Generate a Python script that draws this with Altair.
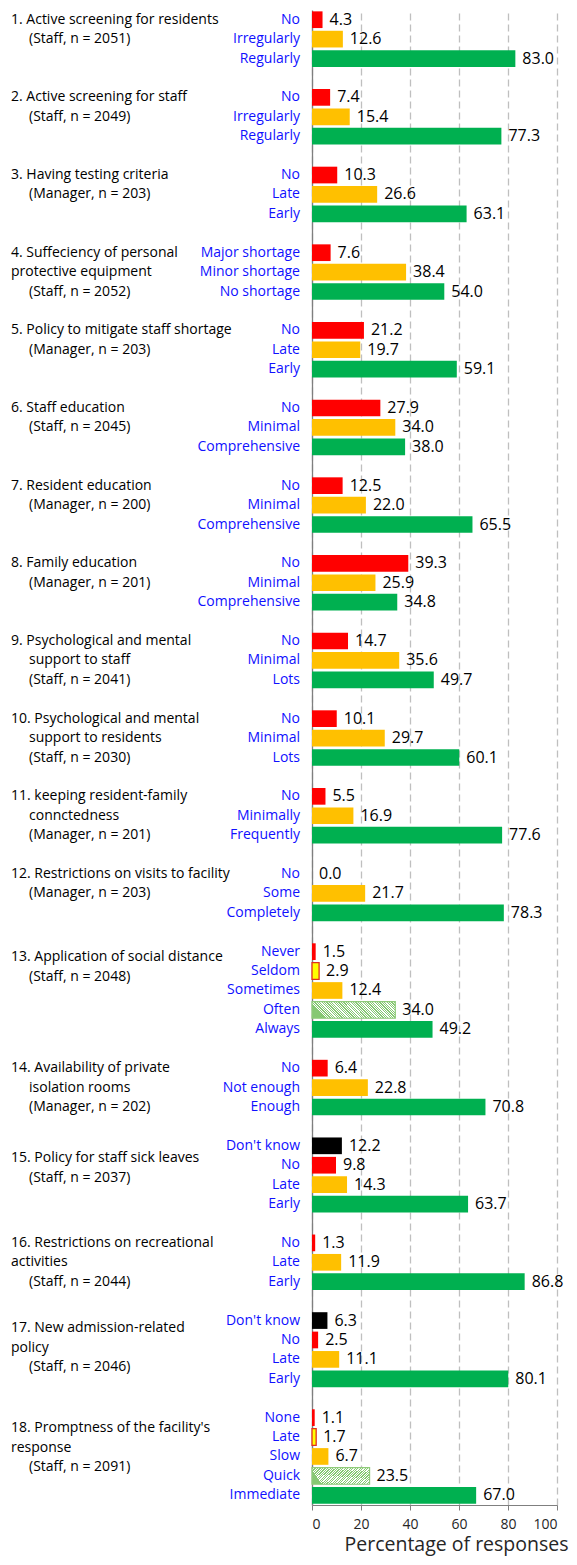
import altair as alt
import pandas as pd

# ---------------- data ----------------
titles = [
    ["1. Active screening for residents", "\t(Staff, n = 2051)"],
    ["2. Active screening for staff", "\t(Staff, n = 2049)"],
    ["3. Having testing criteria", "\t(Manager, n = 203)"],
    ["4. Suffeciency of personal", "protective equipment", "\t(Staff, n = 2052)"],
    ["5. Policy to mitigate staff shortage", "\t(Manager, n = 203)"],
    ["6. Staff education", "\t(Staff, n = 2045)"],
    ["7. Resident education", "\t(Manager, n = 200)"],
    ["8. Family education", "\t(Manager, n = 201)"],
    ["9. Psychological and mental", "\tsupport to staff", "\t(Staff, n = 2041)"],
    ["10. Psychological and mental", "\tsupport to residents", "\t(Staff, n = 2030)"],
    ["11. keeping resident-family", "\tconnctedness", "\t(Manager, n = 201)"],
    ["12. Restrictions on visits to facility", "\t(Manager, n = 203)"],
    ["13. Application of social distance", "\t(Staff, n = 2048)"],
    ["14. Availability of private", "\tisolation rooms", "\t(Manager, n = 202)"],
    ["15. Policy for staff sick leaves", "\t(Staff, n = 2037)"],
    ["16. Restrictions on recreational", "activities", "\t(Staff, n = 2044)"],
    ["17. New admission-related", "policy", "\t(Staff, n = 2046)"],
    ["18. Promptness of the facility's", "response", "\t(Staff, n = 2091)"],
]

categories = [
    ["No", "Irregularly", "Regularly"],
    ["No", "Irregularly", "Regularly"],
    ["No", "Late", "Early"],
    ["Major shortage", "Minor shortage", "No shortage"],
    ["No", "Late", "Early"],
    ["No", "Minimal", "Comprehensive"],
    ["No", "Minimal", "Comprehensive"],
    ["No", "Minimal", "Comprehensive"],
    ["No", "Minimal", "Lots"],
    ["No", "Minimal", "Lots"],
    ["No", "Minimally", "Frequently"],
    ["No", "Some", "Completely"],
    ["Never", "Seldom", "Sometimes", "Often", "Always"],
    ["No", "Not enough", "Enough"],
    ["Don't know", "No", "Late", "Early"],
    ["No", "Late", "Early"],
    ["Don't know", "No", "Late", "Early"],
    ["None", "Late", "Slow", "Quick", "Immediate"],
]

values = [
    [4.3, 12.6, 83.0],
    [7.4, 15.4, 77.3],
    [10.3, 26.6, 63.1],
    [7.6, 38.4, 54.0],
    [21.2, 19.7, 59.1],
    [27.9, 34.0, 38.0],
    [12.5, 22.0, 65.5],
    [39.3, 25.9, 34.8],
    [14.7, 35.6, 49.7],
    [10.1, 29.7, 60.1],
    [5.5, 16.9, 77.6],
    [0.0, 21.7, 78.3],
    [1.5, 2.9, 12.4, 34.0, 49.2],
    [6.4, 22.8, 70.8],
    [12.2, 9.8, 14.3, 63.7],
    [1.3, 11.9, 86.8],
    [6.3, 2.5, 11.1, 80.1],
    [1.1, 1.7, 6.7, 23.5, 67.0],
]

RYG = ["red", "orange", "green"]
styles = [RYG] * 12 + [
    ["red", "yellow", "orange", "hatch", "green"],
    RYG,
    ["black", "red", "orange", "green"],
    RYG,
    ["black", "red", "orange", "green"],
    ["red", "yellow", "orange", "hatch", "green"],
]

# layout-only: vertical shift of the question title (in rows)
TITLE_SHIFT = {13: 0.3, 15: 0.65, 17: 0.4, 18: 0.55}

# ---------------- build tables ----------------
bar_rows, title_rows = [], []
row = 0
for gi, (tl, cats, vals, sts) in enumerate(zip(titles, categories, values, styles), start=1):
    first = row
    for c, v, s in zip(cats, vals, sts):
        bar_rows.append({"row": row, "cat": c, "val": v, "style": s})
        row += 1
    for li, line in enumerate(tl):
        title_rows.append({
            "row": first + TITLE_SHIFT.get(gi, 0) + li,
            "text": line.lstrip("\t"),
            "indent": line.startswith("\t"),
        })
    row += 1  # blank separator row
n_rows = row - 1

bars = pd.DataFrame(bar_rows)
tdf = pd.DataFrame(title_rows)

FONT = "Open Sans"
W, H = 245, 1495
PAD_L = 304

yscale = alt.Scale(domain=[-0.5, n_rows - 0.5], reverse=True, nice=False, zero=False, padding=0)
xscale = alt.Scale(domain=[0, 100], nice=False, padding=0)

base = alt.Chart(bars).transform_calculate(
    y0="datum.row - 0.43", y1="datum.row + 0.43"
)

style_dom = ["red", "orange", "green", "black", "yellow"]
fill_rng = ["#FF0000", "#FFC000", "#00B050", "#000000", "#FFFF00"]
stroke_rng = ["transparent", "transparent", "transparent", "transparent", "#E0301E"]

solid = base.transform_filter(alt.datum.style != "hatch").mark_bar(strokeWidth=1.3).encode(
    x=alt.X("val:Q", scale=xscale,
            axis=alt.Axis(values=[0, 20, 40, 60, 80, 100], grid=True, gridDash=[7, 4],
                          gridColor="#BFBFBF", gridWidth=1.3, domainColor="#7F7F7F",
                          tickColor="#7F7F7F", tickSize=5, labelFont=FONT, labelFontSize=14,
                          labelColor="#262626", labelPadding=7, title="Percentage of responses",
                          titleFont=FONT, titleFontSize=19.5, titleFontWeight="normal",
                          titleColor="#262626", titleAlign="right", titleX=256, titleY=45,
                          titleBaseline="alphabetic")),
    x2=alt.datum(0),
    y=alt.Y("y0:Q", scale=yscale,
            axis=alt.Axis(labels=False, ticks=False, grid=False, title=None,
                          domainColor="#7F7F7F", domainWidth=1.3)),
    y2="y1:Q",
    fill=alt.Fill("style:N", scale=alt.Scale(domain=style_dom, range=fill_rng), legend=None),
    stroke=alt.Stroke("style:N", scale=alt.Scale(domain=style_dom, range=stroke_rng), legend=None),
)

N = 36
G = "#86C873"
stops = []
for i in range(N):
    a, b, c = i / N, (i + 0.5) / N, (i + 1) / N
    stops += [
        {"offset": a, "color": G}, {"offset": b, "color": G},
        {"offset": b, "color": "#FFFFFF"}, {"offset": c, "color": "#FFFFFF"},
    ]
hatch_fill = {"gradient": "linear", "x1": 0, "y1": 0.2, "x2": 1, "y2": 0, "stops": stops}

hatch = base.transform_filter(alt.datum.style == "hatch").mark_bar(
    fill=hatch_fill, stroke="#8FCB7A", strokeWidth=1.2
).encode(
    x=alt.X("val:Q", scale=xscale),
    x2=alt.datum(0),
    y=alt.Y("y0:Q", scale=yscale),
    y2="y1:Q",
)

val_text = alt.Chart(bars).mark_text(
    align="left", baseline="middle", dx=7, font=FONT, fontSize=16, color="#000000"
).encode(
    x=alt.X("val:Q", scale=xscale),
    y=alt.Y("row:Q", scale=yscale),
    text=alt.Text("val:Q", format=".1f"),
)

cat_text = alt.Chart(bars).mark_text(
    align="right", baseline="middle", font=FONT, fontSize=14, color="#1010FF"
).encode(
    x=alt.value(-12),
    y=alt.Y("row:Q", scale=yscale),
    text="cat:N",
)

title_main = alt.Chart(tdf).transform_filter(~alt.datum.indent).mark_text(
    align="left", baseline="middle", font=FONT, fontSize=14, color="#000000"
).encode(
    x=alt.value(-301),
    y=alt.Y("row:Q", scale=yscale),
    text="text:N",
)

title_ind = alt.Chart(tdf).transform_filter(alt.datum.indent).mark_text(
    align="left", baseline="middle", font=FONT, fontSize=14, color="#000000"
).encode(
    x=alt.value(-283),
    y=alt.Y("row:Q", scale=yscale),
    text="text:N",
)

chart = alt.layer(solid, hatch, val_text, cat_text, title_main, title_ind).properties(
    width=W, height=H,
    autosize=alt.AutoSizeParams(type="none"),
    padding={"left": PAD_L, "top": 2, "right": 12, "bottom": 52},
).configure_view(stroke=None)

chart.save("out.html", embed_options={"renderer": "svg", "actions": False})
